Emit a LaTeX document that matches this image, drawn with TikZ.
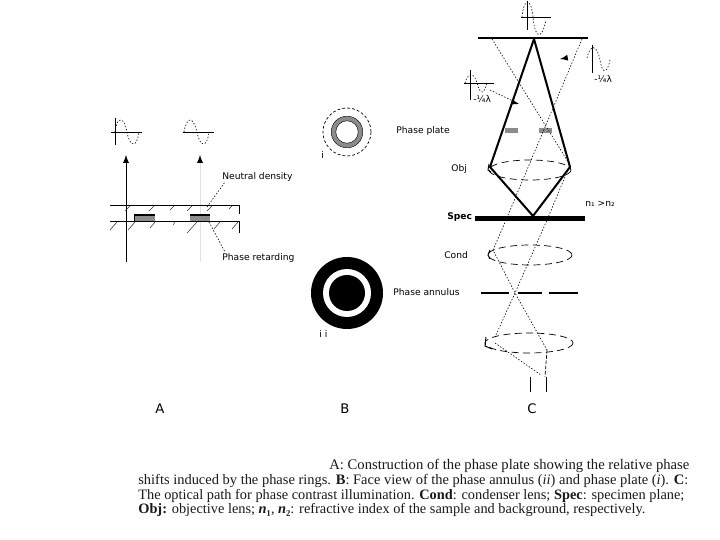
\documentclass[tikz,border=0pt]{standalone}
\usepackage{fontspec}
\usepackage{graphicx}
\setmainfont{Liberation Serif}
\newfontfamily\lblfont{DejaVu Sans}
\begin{document}
\begin{tikzpicture}[x=0.02cm,y=-0.02cm,
  lbl/.style={font=\lblfont\fontsize{5.2}{6}\selectfont,inner sep=0pt,anchor=west},
  captext/.style={inner sep=0pt,anchor=west,text=black!90},
  pan/.style={font=\lblfont\fontsize{7.5}{9}\selectfont,inner sep=0pt},
  dot/.style={line width=0.35pt,dash pattern=on 0.8pt off 1pt},
  lens/.style={line width=0.4pt,dash pattern=on 4pt off 2.5pt},
  ln/.style={line width=0.55pt},
  hat/.style={line width=0.3pt,black!80}]
\useasboundingbox (0,0) rectangle (720,540);
\fill[white] (0,0) rectangle (720,540);
% PANEL A
\coordinate (a1b) at (126,262); \coordinate (a1t) at (126,155);
\coordinate (a2b) at (200,262); \coordinate (a2m) at (200,160); \coordinate (a2t) at (200,155);
\draw[ln,-latex] (a1b) -- (a1t);
\draw[line width=0.2pt,black!12] (a2b) -- (a2m);
\draw[ln,-latex] (a2m) -- (a2t);
\coordinate (w1l) at (111,132); \coordinate (w1r) at (142,132);
\coordinate (w1t) at (115,118); \coordinate (w1b) at (115,145);
\draw[ln] (w1l) -- (w1r); \draw[ln] (w1t) -- (w1b);
\draw[dot] (115,132) .. controls (117,114) and (125,118) .. (127,132) .. controls (130,148) and (137,148) .. (139,132);
\coordinate (w2l) at (183,132); \coordinate (w2r) at (214,132);
\draw[ln] (w2l) -- (w2r);
\draw[dot] (184,132) .. controls (187,116) and (193,116) .. (197,132) .. controls (200,148) and (207,148) .. (209,132);
\fill[black!45] (134,214) rectangle (155,221);
\draw[line width=0.8pt] (134,215) -- (155,215);
\draw[ln] (134,214) -- (134,221);
\fill[black!45] (190,214) rectangle (210,221);
\draw[line width=0.8pt] (190,215) -- (210,215);
\coordinate (p1) at (110,205); \coordinate (p2) at (239,205); \coordinate (p3) at (239,214);
\coordinate (q1) at (110,221); \coordinate (q2) at (239,221); \coordinate (q3) at (239,233);
\draw[ln] (p1) -- (p2) -- (p3);
\draw[ln] (q1) -- (q2) -- (q3);
\foreach \x/\l in {130/5,154/5,174/4,192/5,212/5,232/3}
  \draw[hat] (\x,206) -- ++(-\l,\l);
\foreach \x/\l in {117/7,135/7,155/5,175/2,197/10,220/6,238/6}
  \draw[hat] (\x,222) -- ++(-\l,\l+1);
\node[lbl] (nd) at (222,177) {Neutral density};
\node[lbl] (pr) at (222,258) {Phase retarding};
\coordinate (ndp) at (207,207); \coordinate (prp) at (209,222);
\coordinate (ndq) at (225,182); \coordinate (prq) at (225,252);
\draw[dot] (ndp) -- (ndq);
\draw[dot] (prp) -- (prq);
\node[pan] (A) at (160,409) {A};
% PANEL B
\draw[black!45,line width=2.6pt] (347,132) circle[radius=13.5];
\draw[line width=0.25pt] (347,132) circle[radius=15.8];
\draw[line width=0.25pt] (347,132) circle[radius=11.2];
\draw[line width=0.4pt,dash pattern=on 1.6pt off 1.2pt] (347,132) circle[radius=24];
\node[lbl] (i) at (321,155) {i};
\fill[black] (347,293) circle[radius=36];
\fill[white] (347,293) circle[radius=24];
\fill[black] (347,293) circle[radius=18];
\node[lbl] (ii) at (319,334) {i i};
\node[pan] (B) at (345,409) {B};
\node[lbl] at (396,131) {Phase plate};
\node[lbl] at (393,292) {Phase annulus};
\node[lbl] at (451,169) {Obj};
\node[lbl,font=\lblfont\bfseries\fontsize{5.2}{6}\selectfont] at (447,217) {Spec};
\node[lbl] at (444,255) {Cond};
\node[lbl] at (585,204) {n₁ >n₂};
% PANEL C
\coordinate (top1) at (478,38); \coordinate (top2) at (588,38);
\coordinate (foc) at (534,39); \coordinate (ol) at (490,167); \coordinate (or) at (570,167);
\coordinate (sp) at (533,216);
\draw[line width=1.1pt] (top1) -- (top2);
\draw[line width=1.15pt,line join=round] (foc) -- (ol) -- (sp) -- (or) -- cycle;
\draw[line width=2.4pt] (475,218.5) -- (585,218.5);
\fill[black!45] (505,128) rectangle (518,133);
\fill[black!45] (539,128) rectangle (552,133);
\draw[lens] (530,170) ellipse[x radius=41,y radius=10];
\draw[lens] (530,255) ellipse[x radius=42,y radius=10];
\draw[lens] (529,343) ellipse[x radius=44,y radius=10];
\draw[ln] (490,250) -- (488,255) -- (490,259);
\draw[ln] (486,337) -- (485,346) -- (492,349);
\draw[ln] (489,164) -- (488,170) -- (491,172);
\draw[line width=1.7pt] (481,293) -- (509,293) (518,293) -- (542,293) (549,293) -- (578,293);
\draw[dot] (492,39) -- (570,165) -- (547,220) -- (515,293) -- (495,337);
\draw[dot] (582,39) -- (503,227) -- (493,250) -- (515,293) -- (547,350);
\draw[line width=0.4pt,dash pattern=on 2pt off 1pt] (547,350) -- (545,377);
\draw[dot] (495,343) -- (541,375);
\draw[ln] (530,377) -- (530,392);
\draw[ln] (546,377) -- (546,392);
\node[pan] (C) at (532,409) {C};
% waves
\draw[ln] (527,1) -- (527,30); \draw[ln] (521,17) -- (551,17);
\draw[dot] (522,17) .. controls (524,-3) and (531,-3) .. (533,17) .. controls (535,40) and (542,40) .. (546,20);
\draw[ln] (470,70) -- (470,100); \draw[ln] (464,83) -- (494,83);
\draw[ln] (592,45) -- (592,73);
\draw[dot] (587,58) .. controls (590,44) and (597,44) .. (600,60) .. controls (603,78) and (608,70) .. (610,60);
\draw[dot] (465,83) .. controls (468,72) and (474,72) .. (477,83) .. controls (480,95) and (484,95) .. (487,83);
\draw[-latex,ln] (512,102) -- (519,104);
\draw[-latex,ln] (566,58) -- (560,59);
\draw[dot] (490,90) -- (513,101);
\node[lbl] at (473,99) {-¼λ};
\node[lbl] at (594,79) {-¼λ};
% caption
\node[captext] at (329,466) {\resizebox{360\dimexpr0.02cm\relax}{!}{A: Construction of the phase plate showing the relative phase}};
\node[captext] at (138,481) {\resizebox{550\dimexpr0.02cm\relax}{!}{shifts induced by the phase rings. \textbf{B}: Face view of the phase annulus (\textit{ii}) and phase plate (\textit{i}). \textbf{C}:}};
\node[captext] at (138,496) {\resizebox{546\dimexpr0.02cm\relax}{!}{The optical path for phase contrast illumination. \textbf{Cond}: condenser lens; \textbf{Spec}: specimen plane;}};
\node[captext] at (138,510) {\resizebox{507\dimexpr0.02cm\relax}{!}{\textbf{Obj:} objective lens; \textbf{\textit{n}₁}, \textbf{\textit{n}₂}: refractive index of the sample and background, respectively.}};
\end{tikzpicture}
\end{document}
